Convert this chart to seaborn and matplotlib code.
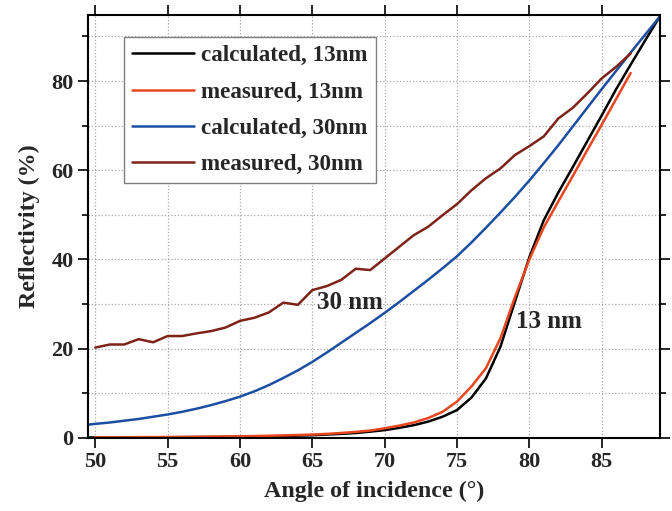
import matplotlib
matplotlib.use("Agg")
import matplotlib.pyplot as plt
import matplotlib.ticker as mticker
import seaborn as sns
import pandas as pd

# Reflectivity vs angle of incidence

angle_calc = [49.5, 50, 51, 52, 53, 54, 55, 56, 57, 58, 59, 60, 61, 62, 63, 64, 65, 66, 67,
              68, 69, 70, 71, 72, 73, 74, 75, 76, 77, 78, 79, 80, 81, 82, 83, 84, 85, 86,
              87, 88, 89]
calc_30 = [2.9, 3.1, 3.4, 3.8, 4.2, 4.7, 5.2, 5.8, 6.5, 7.3, 8.2, 9.2, 10.4, 11.8, 13.4,
           15.1, 17.0, 19.1, 21.3, 23.5, 25.7, 28.0, 30.4, 32.9, 35.4, 38.0, 40.7, 43.8,
           47.1, 50.5, 54.0, 57.7, 61.6, 65.6, 69.8, 74.0, 78.2, 82.3, 86.4, 90.4, 94.4]
calc_13 = [0.05, 0.05, 0.05, 0.06, 0.07, 0.08, 0.1, 0.12, 0.14, 0.16, 0.18, 0.2, 0.25,
           0.3, 0.37, 0.45, 0.55, 0.7, 0.85, 1.05, 1.35, 1.7, 2.2, 2.8, 3.6, 4.7, 6.2, 9.0,
           13.3, 20.4, 30.5, 40.5, 48.8, 55.0, 60.7, 66.5, 72.3, 78.2, 83.7, 89.1, 94.4]

angle_meas = list(range(50, 88))
meas_30 = [20.2, 20.9, 20.9, 22.1, 21.4, 22.8, 22.8, 23.4, 23.9, 24.7, 26.2, 26.9, 28.1,
           30.3, 29.8, 33.1, 34.0, 35.4, 37.9, 37.6, 40.2, 42.8, 45.4, 47.3, 49.9, 52.4,
           55.5, 58.2, 60.4, 63.4, 65.4, 67.6, 71.6, 74.0, 77.2, 80.6, 83.2, 86.2]
meas_13 = [0.1, 0.1, 0.1, 0.12, 0.13, 0.15, 0.17, 0.2, 0.23, 0.27, 0.3, 0.36, 0.43, 0.5,
           0.6, 0.7, 0.85, 1.05, 1.3, 1.6, 2.1, 2.7, 3.4, 4.4, 5.8, 8.1, 11.5, 15.6, 22.3,
           31.5, 40.0, 47.2, 53.0, 58.7, 64.5, 70.2, 76.0, 81.8]

series = [
    ("calculated, 13nm", angle_calc, calc_13, "#000000"),
    ("measured, 13nm", angle_meas, meas_13, "#e8461f"),
    ("calculated, 30nm", angle_calc, calc_30, "#1c4fa3"),
    ("measured, 30nm", angle_meas, meas_30, "#7d2319"),
]

sns.set_style("ticks")
plt.rcParams["font.family"] = ["Liberation Serif", "DejaVu Serif"]
plt.rcParams["font.weight"] = "bold"
plt.rcParams["axes.labelweight"] = "bold"

fig = plt.figure(figsize=(6.72, 5.11), dpi=100)
ax = fig.add_axes([0.131, 0.1435, 0.851, 0.827])

for label, x, y, color in series:
    df = pd.DataFrame({"angle": x, "refl": y})
    sns.lineplot(data=df, x="angle", y="refl", color=color, linewidth=1.8,
                 label=label, ax=ax)

ax.set_xlim(49.5, 89.02)
ax.set_ylim(0, 94.8)
ax.xaxis.set_major_locator(mticker.MultipleLocator(5))
ax.yaxis.set_major_locator(mticker.MultipleLocator(20))
ax.yaxis.set_minor_locator(mticker.MultipleLocator(10))

ax.grid(True, which="major", axis="x", linestyle=":", color="#a8a8a8", linewidth=0.9)
ax.grid(True, which="both", axis="y", linestyle=":", color="#a8a8a8", linewidth=0.9)

ax.tick_params(which="major", direction="out", length=7, width=1.4, labelsize=16,
               top=True, right=True, labeltop=False, labelright=False)
ax.tick_params(which="minor", direction="out", length=4.5, width=1.4, right=True)
for s in ax.spines.values():
    s.set_linewidth(1.5)
    s.set_color("black")

ax.set_xlabel("Angle of incidence (°)", fontsize=17.3, fontweight="bold", labelpad=6)
ax.set_ylabel("Reflectivity (%)", fontsize=17.3, fontweight="bold", labelpad=8)

ax.text(65.3, 30.4, "30 nm", fontsize=18, fontweight="bold", va="center", ha="left")
ax.text(79.1, 26.0, "13 nm", fontsize=18, fontweight="bold", va="center", ha="left")

leg = ax.legend(loc="upper left", bbox_to_anchor=(0.063, 0.948), fontsize=16.6,
                frameon=True, fancybox=False, edgecolor="#7f7f7f", framealpha=1,
                handlelength=2.7, labelspacing=0.66, borderpad=0.35, handletextpad=0.3,
                borderaxespad=0)
leg.get_frame().set_linewidth(1.0)

plt.savefig("out.png", dpi=100)
